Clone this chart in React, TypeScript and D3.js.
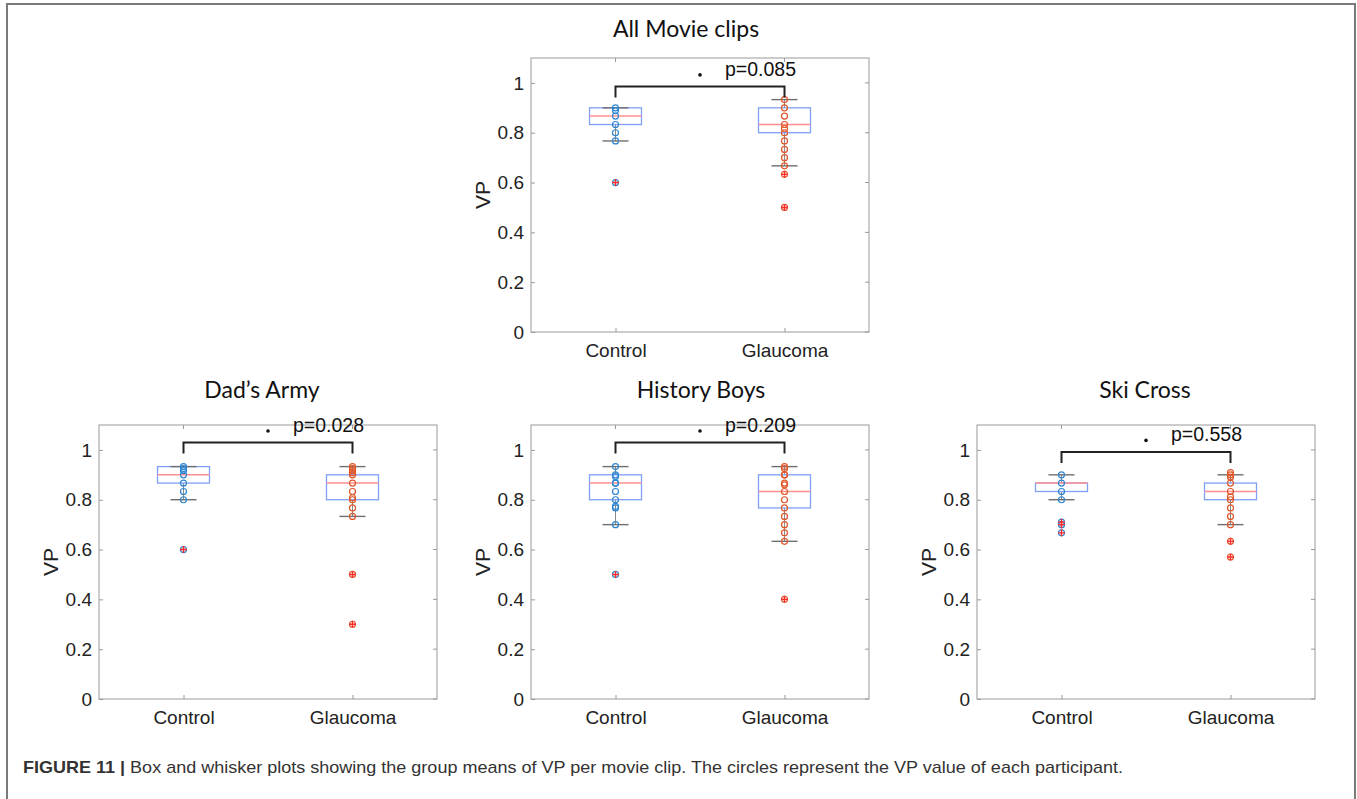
import * as d3 from "d3";
import React, { useEffect, useRef } from "react";

const W = 1357;
const H = 799;

const categories = ["Control", "Glaucoma"];
const panelTitles = ["All Movie clips", "Dad\u2019s Army", "History Boys", "Ski Cross"];
const pLabels = ["p=0.085", "p=0.028", "p=0.209", "p=0.558"];
// height of the significance bracket, in VP units
const bracketLevels = [0.986, 1.03, 1.03, 0.992];
const yTicks = [0, 0.2, 0.4, 0.6, 0.8, 1];

// [lower whisker, q1, median, q3, upper whisker]
const controlBoxes = [
  [0.767, 0.833, 0.867, 0.9, 0.9],
  [0.8, 0.867, 0.9, 0.933, 0.933],
  [0.7, 0.8, 0.867, 0.9, 0.933],
  [0.8, 0.833, 0.867, 0.867, 0.9],
];
const glaucomaBoxes = [
  [0.667, 0.8, 0.833, 0.9, 0.933],
  [0.733, 0.8, 0.867, 0.9, 0.933],
  [0.633, 0.767, 0.833, 0.9, 0.933],
  [0.7, 0.8, 0.833, 0.867, 0.9],
];
const controlOutliers = [[0.6], [0.6], [0.5], [0.71, 0.7, 0.667]];
const glaucomaOutliers = [[0.633, 0.5], [0.5, 0.3], [0.4], [0.633, 0.57]];

// VP of each participant
const controlPoints = [
  [0.9, 0.889, 0.867, 0.833, 0.8, 0.767, 0.6],
  [0.933, 0.925, 0.917, 0.9, 0.867, 0.833, 0.8, 0.6],
  [0.933, 0.9, 0.893, 0.867, 0.867, 0.833, 0.8, 0.773, 0.767, 0.7, 0.5],
  [0.9, 0.867, 0.833, 0.8, 0.71, 0.7, 0.667],
];
const glaucomaPoints = [
  [0.933, 0.9, 0.867, 0.833, 0.817, 0.8, 0.767, 0.733, 0.7, 0.667, 0.633, 0.5],
  [0.933, 0.925, 0.917, 0.908, 0.9, 0.867, 0.833, 0.808, 0.8, 0.767, 0.733, 0.5, 0.3],
  [0.933, 0.925, 0.9, 0.9, 0.867, 0.86, 0.833, 0.8, 0.767, 0.733, 0.7, 0.667, 0.633, 0.4],
  [0.909, 0.9, 0.891, 0.867, 0.833, 0.812, 0.8, 0.767, 0.733, 0.7, 0.633, 0.57],
];

const caption =
  "Box and whisker plots showing the group means of VP per movie clip. The circles represent the VP value of each participant.";

// panel placement
const layout = [
  { left: 531, top: 58, titleX: 686, titleY: 37 },
  { left: 99, top: 425, titleX: 262, titleY: 398 },
  { left: 531, top: 425, titleX: 701, titleY: 398 },
  { left: 977, top: 425, titleX: 1145, titleY: 398 },
];
const pw = 338;
const ph = 274;
const font = "'Liberation Sans', Arial, sans-serif";
const colors = ["#2f86d0", "#e0572a"];

const App = () => {
  const ref = useRef<SVGSVGElement>(null);

  useEffect(() => {
    const svg = d3.select(ref.current);
    svg.selectAll("*").remove();

    // figure frame
    svg
      .append("path")
      .attr("d", `M7,${H} V4 H1355 V${H}`)
      .attr("fill", "none")
      .attr("stroke", "#7a7a7a")
      .attr("stroke-width", 2);

    layout.forEach((lay, i) => {
      const x = d3.scalePoint().domain(categories).range([0, pw]).padding(0.5);
      const y = d3.scaleLinear().domain([0, 1.1]).range([ph, 0]);

      svg
        .append("text")
        .attr("x", lay.titleX)
        .attr("y", lay.titleY)
        .attr("text-anchor", "middle")
        .attr("font-family", "Lato, sans-serif")
        .attr("font-size", 23)
        .attr("fill", "#111")
        .text(panelTitles[i]);

      const g = svg.append("g").attr("transform", `translate(${lay.left},${lay.top})`);

      g.append("rect")
        .attr("width", pw)
        .attr("height", ph)
        .attr("fill", "none")
        .attr("stroke", "#9a9a9a");

      const yAxisG = g
        .append("g")
        .call(d3.axisLeft(y).tickValues(yTicks).tickSize(-4).tickPadding(7).tickFormat(d3.format("~g")));
      yAxisG.select(".domain").remove();
      yAxisG.selectAll("line").attr("stroke", "#9a9a9a");
      yAxisG
        .selectAll("text")
        .attr("font-family", font)
        .attr("font-size", 19)
        .attr("fill", "#222");

      const xAxisG = g
        .append("g")
        .attr("transform", `translate(0,${ph})`)
        .call(d3.axisBottom(x).tickSize(-4).tickPadding(12));
      xAxisG.select(".domain").remove();
      xAxisG.selectAll("line").attr("stroke", "#9a9a9a");
      xAxisG
        .selectAll("text")
        .attr("font-family", font)
        .attr("font-size", 19)
        .attr("fill", "#222");

      // mirrored ticks on top and right
      g.selectAll(".rtick")
        .data(yTicks)
        .join("line")
        .attr("x1", pw)
        .attr("x2", pw - 4)
        .attr("y1", (d) => y(d))
        .attr("y2", (d) => y(d))
        .attr("stroke", "#9a9a9a");
      g.selectAll(".ttick")
        .data(categories)
        .join("line")
        .attr("x1", (d) => x(d)!)
        .attr("x2", (d) => x(d)!)
        .attr("y1", 0)
        .attr("y2", 4)
        .attr("stroke", "#9a9a9a");

      g.append("text")
        .attr("transform", `translate(-41,${ph / 2}) rotate(-90)`)
        .attr("text-anchor", "middle")
        .attr("font-family", font)
        .attr("font-size", 21)
        .attr("fill", "#222")
        .text("VP");

      const boxes = [controlBoxes[i], glaucomaBoxes[i]];
      const outliers = [controlOutliers[i], glaucomaOutliers[i]];
      const points = [controlPoints[i], glaucomaPoints[i]];
      const bw = 26;

      categories.forEach((c, k) => {
        const cx = x(c)!;
        const [lo, q1, med, q3, hi] = boxes[k];
        const bg = g.append("g");
        bg.append("line")
          .attr("x1", cx).attr("x2", cx)
          .attr("y1", y(q3)).attr("y2", y(hi))
          .attr("stroke", "#8a8a8a");
        bg.append("line")
          .attr("x1", cx).attr("x2", cx)
          .attr("y1", y(q1)).attr("y2", y(lo))
          .attr("stroke", "#8a8a8a");
        bg.append("rect")
          .attr("x", cx - bw)
          .attr("y", y(q3))
          .attr("width", bw * 2)
          .attr("height", y(q1) - y(q3))
          .attr("fill", "none")
          .attr("stroke", "#7f9ff8")
          .attr("stroke-width", 1.3);
        bg.append("line")
          .attr("x1", cx - bw).attr("x2", cx + bw)
          .attr("y1", y(med)).attr("y2", y(med))
          .attr("stroke", "#ff8f8f")
          .attr("stroke-width", 1.5);
        [lo, hi].forEach((v) => {
          bg.append("line")
            .attr("x1", cx - bw / 2).attr("x2", cx + bw / 2)
            .attr("y1", y(v)).attr("y2", y(v))
            .attr("stroke", "#6f6f6f")
            .attr("stroke-width", 1.4);
        });

        bg.selectAll(".pt")
          .data(points[k])
          .join("circle")
          .attr("cx", cx)
          .attr("cy", (d) => y(d))
          .attr("r", 3)
          .attr("fill", "none")
          .attr("stroke", colors[k])
          .attr("stroke-width", 1.2);

        outliers[k].forEach((v) => {
          bg.append("path")
            .attr("d", `M${cx - 3.5},${y(v)} H${cx + 3.5} M${cx},${y(v) - 3.5} V${y(v) + 3.5}`)
            .attr("stroke", "#ff2a2a")
            .attr("stroke-width", 1.4);
        });
      });

      // significance bracket
      const lvl = y(bracketLevels[i]);
      const x1 = x(categories[0])!;
      const x2 = x(categories[1])!;
      const mid = (x1 + x2) / 2;
      g.append("path")
        .attr("d", `M${x1},${lvl + 11} V${lvl} H${x2} V${lvl + 11}`)
        .attr("fill", "none")
        .attr("stroke", "#222")
        .attr("stroke-width", 2);
      g.append("circle")
        .attr("cx", mid)
        .attr("cy", lvl - 11.5)
        .attr("r", 1.8)
        .attr("fill", "#111");
      g.append("text")
        .attr("x", mid + 25)
        .attr("y", lvl - 10.5)
        .attr("font-family", font)
        .attr("font-size", 19.5)
        .attr("fill", "#111")
        .text(pLabels[i]);
    });

    const cap = svg
      .append("text")
      .attr("x", 23)
      .attr("y", 773)
      .attr("font-family", font)
      .attr("font-size", 17)
      .attr("fill", "#333")
      .attr("textLength", 1100)
      .attr("lengthAdjust", "spacingAndGlyphs");
    cap.append("tspan").attr("font-weight", "bold").text("FIGURE 11 | ");
    cap.append("tspan").text(caption);
  }, []);

  return (
    <svg
      ref={ref}
      width={W}
      height={H}
      style={{ position: "absolute", left: 0, top: 0, background: "#fff" }}
    />
  );
};

export default App;
